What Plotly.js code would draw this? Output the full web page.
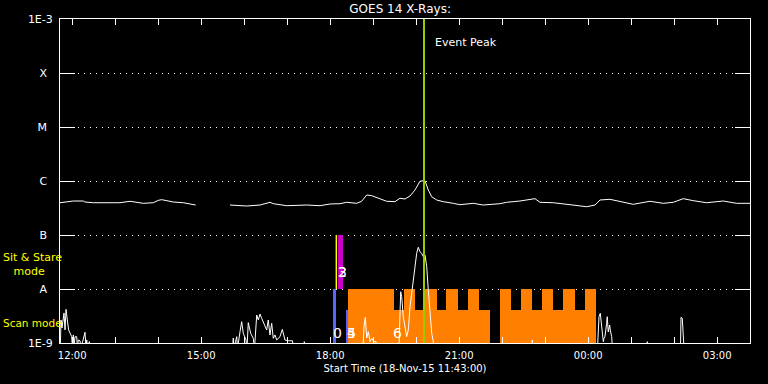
<!DOCTYPE html>
<html><head><meta charset="utf-8">
<script src="https://cdn.plot.ly/plotly-3.0.1.min.js"></script>
<style>html,body{margin:0;padding:0;background:#000;}#chart{width:768px;height:384px;}</style>
</head><body><div id="chart"></div>
<script>
// ---- data (time in minutes after start 2015-11-18 11:43:00, flux in W/m^2) ----
const startLabel = 'Start Time (18-Nov-15 11:43:00)';
const chartTitle = 'GOES 14 X-Rays:';
const levelNames = ['1E-9', 'A', 'B', 'C', 'M', 'X', '1E-3'];
const levelValues = [1e-9, 1e-8, 1e-7, 1e-6, 1e-5, 1e-4, 1e-3];

const longMin = [0, 7.0, 14.0, 18.6, 32.5, 34.9, 46.5, 65.2, 83.7, 97.7, 107.0, 116.2, 130.2, 137.2, 141.9, 148.9, 158.1, 172.0, 181.4, 189.3,
  213.0,
  237.2, 260.5, 279.1, 293.0, 297.6, 316.3, 344.2, 362.8, 376.7, 390.7, 400.0, 414.0, 420.9, 427.9, 434.9, 441.9, 455.8, 467.4, 474.4, 481.4,
  488.4, 495.3, 502.3, 506.9, 509.3, 513.9, 518.7, 525.6, 534.8, 548.8, 558.1, 576.7, 590.6, 613.9, 623.3, 641.8, 662.8, 669.7, 688.3,
  711.6, 734.9, 746.5, 753.5, 767.4, 781.4, 799.9, 823.3, 841.8, 855.8, 869.7, 883.6, 902.3, 925.5, 944.2, 962.8];
const longFlux = [3.96e-7, 4.03e-7, 4.21e-7, 4.26e-7, 4.26e-7, 4.08e-7, 3.96e-7, 3.91e-7, 3.96e-7, 4.21e-7, 4.08e-7, 3.86e-7, 3.96e-7, 4.38e-7, 4.51e-7, 4.32e-7, 4.08e-7, 3.96e-7, 3.70e-7, 3.59e-7,
  null,
  3.59e-7, 3.44e-7, 3.59e-7, 4.03e-7, 3.80e-7, 3.49e-7, 3.59e-7, 3.49e-7, 3.75e-7, 3.80e-7, 4.03e-7, 3.86e-7, 4.21e-7, 5.5e-7, 5.35e-7, 4.99e-7, 4.21e-7, 4.14e-7, 4.79e-7, 4.64e-7,
  5.27e-7, 6.8e-7, 9.9e-7, 1.01e-6, 1.01e-6, 6.8e-7, 5.1e-7, 4.45e-7, 4.14e-7, 3.86e-7, 3.64e-7, 3.86e-7, 3.59e-7, 3.80e-7, 4.03e-7, 4.26e-7, 4.71e-7, 4.03e-7, 3.96e-7,
  3.64e-7, 3.34e-7, 3.59e-7, 4.45e-7, 4.58e-7, 4.14e-7, 3.70e-7, 4.21e-7, 3.86e-7, 4.03e-7, 4.71e-7, 4.32e-7, 3.96e-7, 4.26e-7, 3.86e-7, 3.86e-7];

const shortMin = [0.4, 1.4, 2.8, 3.8, 5.6, 7.0, 8.4, 10.2, 12.1, 14.0, 16.3, 17.4, 18.6, 19.5, 20.9, 23.3, 24.4, 25.5, 27.9, 29.3, 34.9, 36.3, 37.3, 38.4, 40.9, 41.9,
  240.7, 241.8, 242.8, 246.6, 247.7, 251.2, 253.5, 255.8, 259.5, 260.9, 262.7, 266.1, 269.7, 271.4, 274.5, 276.7, 279.1, 281.4, 283.7, 286.0, 288.4, 290.6, 293.0, 295.4, 297.6, 300.0, 302.4, 307.0, 310.2, 313.9, 318.5, 324.4, 325.8,
  340.4, 340.9, 341.4,
  422.8, 424.2, 426.0, 428.0, 430.2, 432.6, 434.9, 438.1, 440.9, 442.3,
  473.0, 473.4, 475.4, 476.8, 479.0, 483.7, 486.0, 488.4, 490.7, 492.9, 495.3, 497.7, 499.9, 502.3, 504.7, 506.9, 509.3, 511.7, 513.9, 516.3, 518.7, 520.9, 521.8,
  658.5, 659.0, 659.5,
  750.0, 751.1, 752.1, 753.9, 755.3, 756.3, 758.1, 759.0, 760.4, 762.8, 763.6, 765.0, 767.0, 767.8, 769.8, 770.9,
  819.0, 819.5, 820.0,
  865.8, 866.5, 868.3, 869.7, 870.7,
  962.8];
const shortFlux = [8e-10, 2.67e-9, 1.9e-9, 2.35e-9, 3.6e-9, 1.75e-9, 4.2e-9, 2.67e-9, 1.74e-9, 1.53e-9, 1.31e-9, 8e-10, 1.41e-9, 8e-10, 1.3e-9, 1.31e-9, 8e-10, 1.14e-9, 1.1e-9, 8e-10, 1.58e-9, 8e-10, 1.14e-9, 8e-10, 1.06e-9, 8e-10,
  8e-10, 1.24e-9, 8e-10, 1.31e-9, 8e-10, 1.62e-9, 2.48e-9, 1.51e-9, 1.14e-9, 8e-10, 2.38e-9, 1.51e-9, 1.22e-9, 8e-10, 3.3e-9, 2.67e-9, 3.44e-9, 2.87e-9, 2.48e-9, 2.0e-9, 1.74e-9, 2.67e-9, 1.41e-9, 2.32e-9, 1.22e-9, 1.41e-9, 1.14e-9, 1.31e-9, 1.79e-9, 1.14e-9, 1.1e-9, 1.1e-9, 8e-10,
  8e-10, 1.06e-9, 8e-10,
  8e-10, 2.06e-9, 2.99e-9, 1.24e-9, 1.62e-9, 1.06e-9, 1.22e-9, 1.06e-9, 1.06e-9, 8e-10,
  8e-10, 1.14e-9, 8.9e-9, 7.2e-9, 3.07e-9, 1.31e-9, 1.74e-9, 4.7e-9, 8.3e-9, 1.47e-8, 2.99e-8, 4.58e-8, 5.92e-8, 4.91e-8, 4.58e-8, 3.96e-8, 4.26e-8, 2.59e-8, 9.6e-9, 3.07e-9, 1.51e-9, 1.06e-9, 8e-10,
  8e-10, 1.14e-9, 8e-10,
  8e-10, 1.62e-9, 3.07e-9, 3.55e-9, 2.32e-9, 1.41e-9, 1.06e-9, 1.22e-9, 1.31e-9, 2.32e-9, 3.07e-9, 1.6e-9, 2.15e-9, 1.74e-9, 1.31e-9, 8e-10,
  8e-10, 1.06e-9, 8e-10,
  8e-10, 2.99e-9, 2.87e-9, 1.06e-9, 8e-10,
  8e-10];

// observing-mode blocks (start, end in minutes)
const scanLowStart = [402.3, 613.9];
const scanLowEnd = [600.0, 747.9];
const scanLowTop = 4.08e-9;
const scanTallStart = [402.3, 480.0, 507.9, 538.6, 569.3, 613.9, 643.2, 672.6, 701.8, 732.5];
const scanTallEnd = [466.0, 495.3, 525.6, 555.3, 584.6, 629.3, 658.6, 688.6, 718.6, 747.9];
const scanTallTop = 1e-8;
const blueStart = [381.3, 399.1];
const blueEnd = [385.1, 401.9];
const blueTop = [1e-8, 4.08e-9];
const stareStart = [388.5];
const stareEnd = [394.4];
const stareBottom = 1e-8, stareTop = 1e-7;
const yellowMin = 385.6;

const eventMin = 507.9;
const eventLabel = 'Event Peak';

const numLabels = ['0', '4', '5', '6', '2', '3'];
const numMin = [387.9, 407.4, 407.4, 471.6, 394.5, 394.5];
const numFlux = [1.53e-9, 1.53e-9, 1.53e-9, 1.53e-9, 2.07e-8, 2.07e-8];

const rangeStart = 0, rangeEnd = 962.8;
const floorFlux = 8e-10;

// ---- helpers ----
const T0 = Date.UTC(2015, 10, 18, 11, 43, 0);
function ts(m) { return new Date(T0 + m * 60000).toISOString().slice(0, 19).replace('T', ' '); }

function blocks(starts, ends, bottoms, tops, color) {
  const b = i => Array.isArray(bottoms) ? bottoms[i] : bottoms;
  const t = i => Array.isArray(tops) ? tops[i] : tops;
  return {
    type: 'bar',
    x: starts.map((s, i) => ts((s + ends[i]) / 2)),
    width: starts.map((s, i) => (ends[i] - s) * 60000),
    base: starts.map((s, i) => b(i)),
    y: starts.map((s, i) => t(i) - b(i)),
    marker: { color: color, line: { width: 0 } },
    hoverinfo: 'skip', showlegend: false
  };
}

const traces = [
  blocks(scanLowStart, scanLowEnd, floorFlux, scanLowTop, '#ff8000'),
  blocks(scanTallStart, scanTallEnd, floorFlux, scanTallTop, '#ff8000'),
  blocks(blueStart, blueEnd, floorFlux, blueTop, '#5a64ff'),
  blocks(stareStart, stareEnd, stareBottom, stareTop, '#cc00cc'),
  {
    type: 'scatter', mode: 'lines', x: [ts(yellowMin), ts(yellowMin)], y: [stareBottom, stareTop],
    line: { color: '#ffff00', width: 1.5 }, hoverinfo: 'skip', showlegend: false
  },
  {
    type: 'scatter', mode: 'lines', x: shortMin.map(ts), y: shortFlux,
    line: { color: '#ffffff', width: 1 }, hoverinfo: 'skip', showlegend: false
  },
  {
    type: 'scatter', mode: 'lines', x: longMin.map(ts), y: longFlux, connectgaps: false,
    line: { color: '#ffffff', width: 1 }, hoverinfo: 'skip', showlegend: false
  },
  {
    type: 'scatter', mode: 'lines', x: [ts(eventMin), ts(eventMin)], y: [levelValues[0], levelValues[6]],
    line: { color: '#99cc00', width: 2 }, hoverinfo: 'skip', showlegend: false
  }
];

const ticktext = levelNames.map(n => n.length === 1 ? n + '\u00a0\u2009' : n);

const annotations = [
  { xref: 'x', yref: 'y', x: ts(eventMin + 12), y: Math.log10(3.6e-4), text: eventLabel, showarrow: false,
    xanchor: 'left', yanchor: 'middle', font: { color: '#ffffff', size: 11, family: 'DejaVu Sans' } },
  { xref: 'paper', yref: 'y', x: -0.086, y: Math.log10(2.8e-8), text: 'Sit & Stare<br>\u00a0\u00a0\u00a0mode', showarrow: false,
    align: 'left', xanchor: 'left', yanchor: 'middle', font: { color: '#ffff00', size: 11, family: 'DejaVu Sans' } },
  { xref: 'paper', yref: 'y', x: -0.086, y: Math.log10(2.3e-9), text: 'Scan mode', showarrow: false,
    xanchor: 'left', yanchor: 'middle', font: { color: '#ffff00', size: 10.5, family: 'DejaVu Sans' } }
];
numLabels.forEach((t, i) => annotations.push({
  xref: 'x', yref: 'y', x: ts(numMin[i]), y: Math.log10(numFlux[i]), text: t, showarrow: false,
  xanchor: 'center', yanchor: 'middle', font: { color: '#ffffff', size: 14, family: 'DejaVu Sans' }
}));

const layout = {
  width: 768, height: 384,
  paper_bgcolor: '#000000', plot_bgcolor: '#000000',
  margin: { l: 60, r: 18, t: 19, b: 41 },
  barmode: 'overlay', bargap: 0,
  showlegend: false,
  font: { family: 'DejaVu Sans', color: '#ffffff' },
  title: { text: chartTitle, font: { size: 12, color: '#ffffff' }, xref: 'container', x: 0.521, xanchor: 'center', yref: 'container', y: 0.977, yanchor: 'middle' },
  xaxis: {
    type: 'date', range: [ts(rangeStart), ts(rangeEnd)],
    tickformat: '%H:%M', tick0: '2015-11-18 00:00:00', dtick: 3 * 3600000,
    ticks: 'inside', ticklen: 6, tickwidth: 1, tickcolor: '#ffffff',
    minor: { dtick: 3600000, tick0: '2015-11-18 00:00:00', ticks: 'inside', ticklen: 6, tickwidth: 1, tickcolor: '#ffffff', showgrid: false },
    showline: true, linecolor: '#ffffff', linewidth: 1, mirror: 'ticks',
    showgrid: false, zeroline: false,
    tickfont: { size: 10, color: '#ffffff' }, ticklabelstandoff: 3,
    title: { text: startLabel, font: { size: 10, color: '#ffffff' }, standoff: 4 }
  },
  yaxis: {
    type: 'log', range: [-9, -3],
    tickvals: levelValues, ticktext: ticktext,
    ticks: 'inside', ticklen: 15, tickwidth: 1, tickcolor: '#ffffff',
    showline: true, linecolor: '#ffffff', linewidth: 1, mirror: 'ticks',
    showgrid: true, gridcolor: '#ffffff', gridwidth: 1, griddash: '1px,5px',
    zeroline: false,
    tickfont: { size: 11, color: '#ffffff' }, ticklabelstandoff: 4
  },
  annotations: annotations
};

Plotly.newPlot('chart', traces, layout, { staticPlot: true, displayModeBar: false });
</script>
</body></html>
